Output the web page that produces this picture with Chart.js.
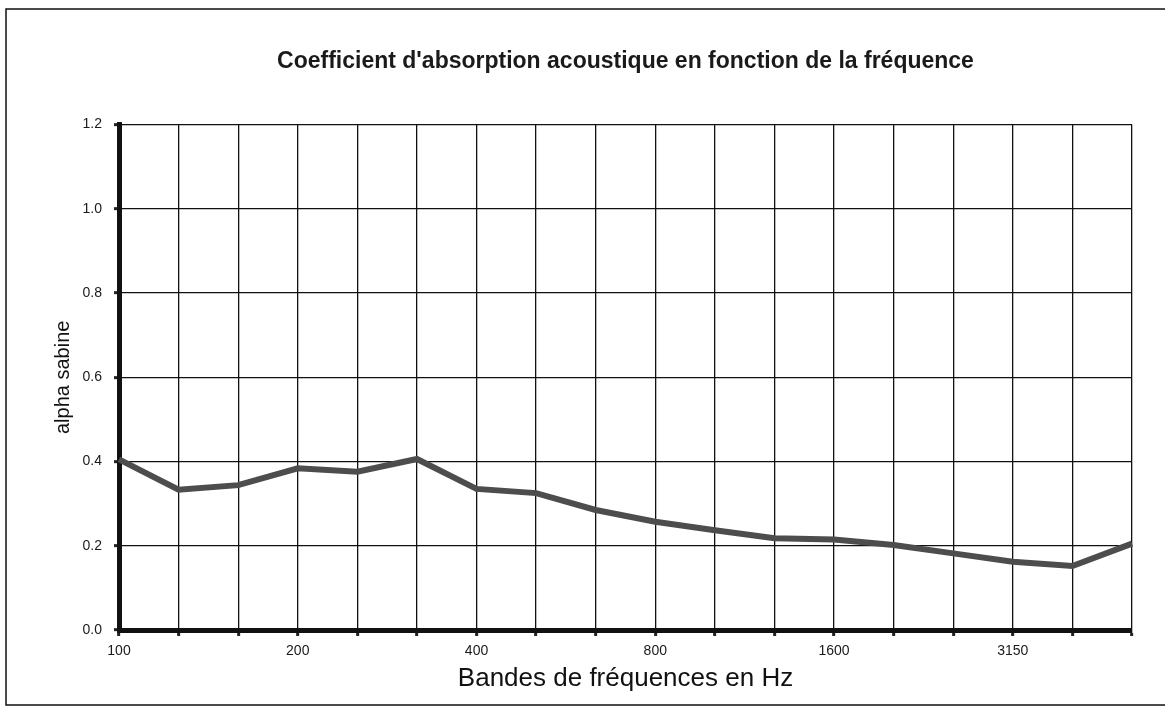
<!DOCTYPE html>
<html>
<head>
<meta charset="utf-8">
<script src="https://cdn.jsdelivr.net/npm/chart.js@4.4.1/dist/chart.umd.min.js"></script>
<style>
  html, body { margin: 0; padding: 0; background: #fff; }
  #wrap { width: 1165px; height: 708px; position: relative; }
</style>
</head>
<body>
<div id="wrap"><canvas id="chartAbsorption"></canvas></div>
<script>
  // bandes de tiers d'octave
  var frequencies = ["100", "125", "160", "200", "250", "315", "400", "500", "630",
                     "800", "1000", "1250", "1600", "2000", "2500", "3150", "4000", "5000"];
  var alphaSabine = [0.405, 0.333, 0.344, 0.384, 0.376, 0.406, 0.335, 0.325, 0.285,
                     0.257, 0.237, 0.218, 0.215, 0.202, 0.182, 0.162, 0.152, 0.205];
  var labelledTicks = ["100", "200", "400", "800", "1600", "3150"];
  var yMin = 0, yMax = 1.2, yStep = 0.2;

  var fontFamily = "'Liberation Sans', Arial, sans-serif";

  // cadre autour du graphique
  var framePlugin = {
    id: "frame",
    beforeDraw: function (chart) {
      var ctx = chart.ctx;
      ctx.save();
      ctx.fillStyle = "#fff";
      ctx.fillRect(0, 0, chart.width, chart.height);
      ctx.strokeStyle = "#111";
      ctx.lineWidth = 1.5;
      ctx.strokeRect(6, 9, chart.width + 10, chart.height - 12);
      ctx.restore();
    }
  };

  var ctx1 = document.getElementById("chartAbsorption").getContext("2d");

  new Chart(ctx1, {
    type: "line",
    data: {
      labels: frequencies,
      datasets: [{
        label: "alpha sabine",
        data: alphaSabine,
        borderColor: "#4d4d4d",
        borderWidth: 6,
        pointRadius: 0,
        tension: 0,
        fill: false
      }]
    },
    plugins: [framePlugin],
    options: {
      responsive: true,
      maintainAspectRatio: false,
      animation: false,
      layout: {
        padding: { left: 51, right: 33, top: 0, bottom: 0 }
      },
      plugins: {
        legend: { display: false },
        tooltip: { enabled: false },
        title: {
          display: true,
          fullSize: false,
          text: "Coefficient d'absorption acoustique en fonction de la fréquence",
          color: "#1a1a1a",
          font: { size: 23, family: fontFamily, weight: "bold" },
          padding: { top: 48, bottom: 49 }
        }
      },
      scales: {
        x: {
          grid: {
            display: true,
            color: "#111",
            lineWidth: 1.3,
            drawTicks: true,
            tickLength: 6,
            tickWidth: 3,
            tickColor: "#222"
          },
          border: { display: true, color: "#111", width: 5 },
          ticks: {
            autoSkip: false,
            maxRotation: 0,
            padding: 7,
            color: "#1a1a1a",
            font: { size: 14, family: fontFamily },
            callback: function (value, index) {
              var lbl = this.getLabelForValue(value);
              return labelledTicks.indexOf(lbl) >= 0 ? lbl : "";
            }
          },
          title: {
            display: true,
            text: "Bandes de fréquences en Hz",
            color: "#111",
            font: { size: 26, family: fontFamily },
            padding: { top: 2, bottom: 14 }
          },
          afterFit: function (scale) { scale.height = 78; }
        },
        y: {
          min: yMin,
          max: yMax,
          grid: {
            display: true,
            color: "#111",
            lineWidth: 1.3,
            drawTicks: true,
            tickLength: 5,
            tickWidth: 3,
            tickColor: "#222"
          },
          border: { display: true, color: "#111", width: 5 },
          ticks: {
            stepSize: yStep,
            padding: 12,
            color: "#1a1a1a",
            font: { size: 14, family: fontFamily },
            callback: function (value) { return Number(value).toFixed(1); }
          },
          title: {
            display: true,
            text: "alpha sabine",
            color: "#111",
            font: { size: 20, family: fontFamily },
            padding: { top: 0, bottom: 0 }
          },
          afterFit: function (scale) { scale.width = 68; }
        }
      }
    }
  });
</script>
</body>
</html>
